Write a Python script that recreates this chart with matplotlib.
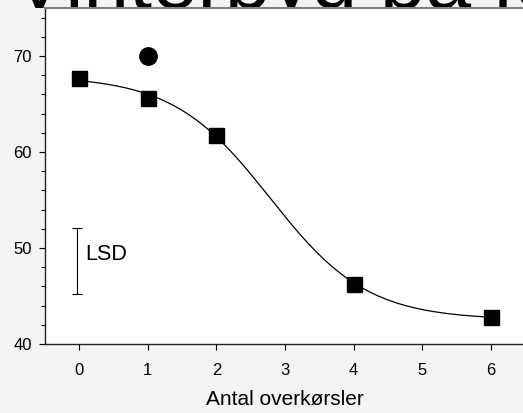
import numpy as np
import matplotlib
matplotlib.use("Agg")
from matplotlib import pyplot as plt
from matplotlib.ticker import MultipleLocator

plt.rcParams['font.family'] = ['Liberation Sans', 'DejaVu Sans']

# Udbytte mod antal overkørsler
passes = np.array([0, 1, 2, 4, 6])
yield_sq = np.array([67.7, 65.6, 61.75, 46.3, 42.85])
ref_x = [1]
ref_y = [70.0]
lsd_value = 6.9
lsd_mid = 48.65

# Sigmoid fit y = A + B / (1 + exp((x - c) / d)), grid search on c, d
best = None
for c in np.linspace(1.5, 4.0, 251):
    for d in np.linspace(0.2, 1.5, 131):
        s = 1.0 / (1.0 + np.exp((passes - c) / d))
        M = np.column_stack([np.ones_like(s), s])
        coef, res, _, _ = np.linalg.lstsq(M, yield_sq, rcond=None)
        err = np.sum((M @ coef - yield_sq) ** 2)
        if best is None or err < best[0]:
            best = (err, c, d, coef)
_, c, d, (A, B) = best
xs = np.linspace(0, 6, 300)
ys = A + B / (1.0 + np.exp((xs - c) / d))

fig = plt.figure(figsize=(5.23, 4.13), dpi=100)
fig.patch.set_facecolor('#f4f4f4')

ax = fig.add_axes([45 / 523, 69 / 413, 480 / 523, 336 / 413])
ax.set_facecolor('white')

fig.text(12 / 523, 405 / 413, 'Vinterbyg på kuperet jord', fontsize=59,
         ha='left', va='baseline', zorder=-1)

ax.plot(xs, ys, color='black', lw=0.9, zorder=2)
ax.plot(passes, yield_sq, 's', color='black', ms=10.8, zorder=3)
ax.plot(ref_x, ref_y, 'o', color='black', ms=12.5, zorder=3)

ax.errorbar([-0.04], [lsd_mid], yerr=[lsd_value / 2], color='black',
            lw=0.8, capsize=3.5, capthick=0.8)
ax.text(0.08, 49.3, 'LSD', fontsize=15.5, ha='left', va='center')

ax.set_xlim(-0.5, 6.5)
ax.set_ylim(40, 75)
ax.set_xticks(range(0, 7))
ax.set_yticks([40, 50, 60, 70])
ax.yaxis.set_minor_locator(MultipleLocator(2))

for side in ['left', 'bottom']:
    ax.spines[side].set_color('#222222')
    ax.spines[side].set_linewidth(1.0)
ax.spines['top'].set_color('#808080')
ax.spines['top'].set_linewidth(1.5)
ax.spines['right'].set_visible(False)

ax.tick_params(axis='both', which='major', direction='out', length=4.5,
               width=0.8, labelsize=12)
ax.tick_params(axis='x', pad=9)
ax.tick_params(axis='y', pad=5)
ax.tick_params(axis='y', which='minor', direction='out', length=3, width=0.8)

ax.set_xlabel('Antal overkørsler', fontsize=15, labelpad=9)

fig.savefig('out.png', dpi=100, facecolor=fig.get_facecolor())
